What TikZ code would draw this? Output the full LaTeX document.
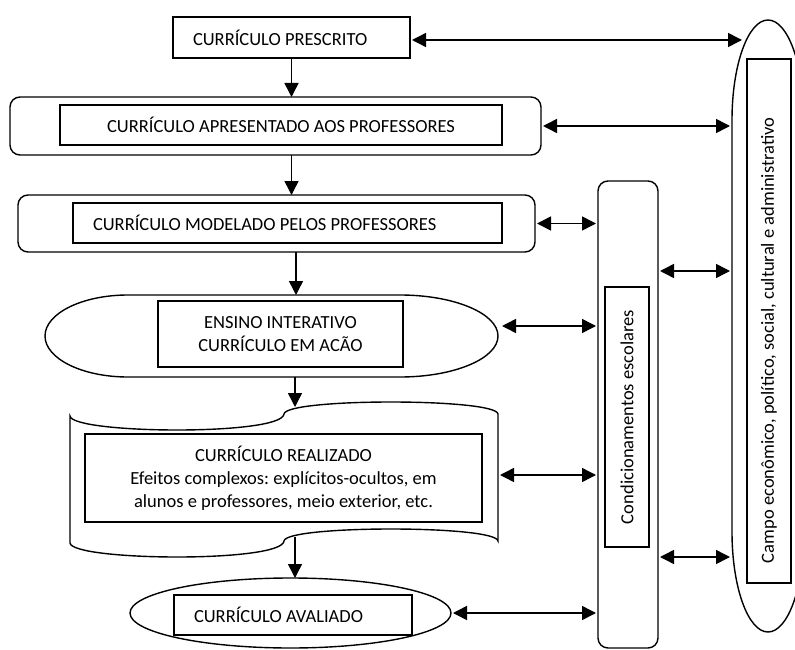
\documentclass[tikz,border=0pt]{standalone}
\usepackage{fontspec}
\setmainfont{Carlito}
\frenchspacing
\usetikzlibrary{shapes.geometric, arrows.meta}

\begin{document}
\begin{tikzpicture}[x=1pt, y=-1pt,
	txt/.style={font=\fontsize{18.5}{23}\selectfont},
	inbox/.style={draw, rectangle, line width=1.8pt, inner sep=0pt, outer sep=0pt, align=center, txt},
	shell/.style={draw, line width=1.4pt, inner sep=0pt, outer sep=0pt},
	flow/.style={line width=1.5pt, -{Triangle[length=14pt, width=14pt]}},
	both/.style={line width=1.5pt, shorten <=2pt, shorten >=2pt,
		{Triangle[length=14pt, width=14pt]}-{Triangle[length=14pt, width=14pt]}}
]
	\useasboundingbox (0,0) rectangle (795,650);

	% outer shapes
	\node[shell, rectangle, rounded corners=10pt, minimum width=531pt, minimum height=58pt] (apresOut) at (275.5,126) {};
	\node[shell, rectangle, rounded corners=10pt, minimum width=517pt, minimum height=57pt] (modelOut) at (276.5,223.5) {};
	\draw[shell] (128,295) -- (400,295) .. controls (454.1,295) and (498,313.4) .. (498,336)
		.. controls (498,358.6) and (454.1,377) .. (400,377) -- (128,377)
		.. controls (82.2,377) and (45,358.6) .. (45,336)
		.. controls (45,313.4) and (82.2,295) .. (128,295) -- cycle;
	\draw[shell] (70,416) .. controls (72,434) and (282,436) .. (284,414)
		.. controls (286,398) and (496,398) .. (498,414) -- (498,541)
		.. controls (496,525) and (286,525) .. (284,541)
		.. controls (282,563) and (72,561) .. (70,543) -- cycle;
	\node[shell, ellipse, minimum width=321pt, minimum height=70pt] (avalOut) at (290.5,613) {};
	\node[shell, rectangle, rounded corners=10pt, minimum width=60pt, minimum height=467pt] (escolar) at (628,414.5) {};
	\draw[shell] (732,120) -- (732,532) .. controls (732,587.2) and (748.1,632) .. (768,632)
		.. controls (787.9,632) and (804,587.2) .. (804,532) -- (804,120)
		.. controls (804,64.8) and (787.9,20) .. (768,20)
		.. controls (748.1,20) and (732,64.8) .. (732,120) -- cycle;

	% inner boxes
	\node[inbox, text width=197pt, align=flush left, inner xsep=20pt, minimum height=41pt] (prescrito) at (291.5,37.5)
		{CURRÍCULO PRESCRITO};
	\node[inbox, minimum width=442pt, minimum height=40pt] (apresentado) at (281,125)
		{CURRÍCULO APRESENTADO AOS PROFESSORES};
	\node[inbox, text width=389pt, align=flush left, inner xsep=20pt, minimum height=40pt] (modelado) at (287.5,223)
		{CURRÍCULO MODELADO PELOS PROFESSORES};
	\node[inbox, minimum width=245pt, minimum height=66pt] (ensino) at (280.5,334)
		{ENSINO INTERATIVO\\CURRÍCULO EM ACÃO};
	\node[inbox, minimum width=397pt, minimum height=88pt] (realizado) at (283.5,478)
		{CURRÍCULO REALIZADO\\Efeitos complexos: explícitos-ocultos, em\\alunos e professores, meio exterior, etc.};
	\node[inbox, text width=198pt, align=flush left, inner xsep=20pt, minimum height=40pt] (avaliado) at (293,615)
		{CURRÍCULO AVALIADO};
	\node[inbox, rotate=90, minimum width=260pt, minimum height=44pt] (condic) at (627,417)
		{Condicionamentos escolares};
	\node[inbox, rotate=90, text width=484pt, align=flush left, inner xsep=20pt, minimum height=44pt] (campo) at (769,321)
		{Campo econômico, político, social, cultural e administrativo};

	% anchor points on the drawn shapes
	\coordinate (ensinoTop) at (296,295);
	\coordinate (ensinoBot) at (295,377);
	\coordinate (ensinoR)   at (500,326);
	\coordinate (docTop)    at (295,407);
	\coordinate (docBot)    at (295,537);
	\coordinate (docR)      at (498,475);
	\coordinate (campoA)    at (744,40);
	\coordinate (campoL)    at (732,300);
	\coordinate (campoC)    at (732,271);
	\coordinate (campoD)    at (732,557);

	% downward flow
	\draw[flow] (prescrito.south) -- (prescrito.south |- apresOut.north);
	\draw[flow] (apresOut.south -| prescrito.south) -- (modelOut.north -| prescrito.south);
	\draw[flow] (modelOut.south -| ensinoTop) -- (ensinoTop);
	\draw[flow] (ensinoBot) -- (docTop);
	\draw[flow] (docBot) -- (docBot |- avalOut.north);

	% two-way links
	\draw[both] (prescrito.east |- campoA) -- (campoA);
	\draw[both] (apresOut.east) -- (apresOut.east -| campoL);
	\draw[both] (modelOut.east) -- (modelOut.east -| escolar.west);
	\draw[both] (campoC -| escolar.east) -- (campoC);
	\draw[both] (ensinoR) -- (ensinoR -| escolar.west);
	\draw[both] (docR) -- (docR -| escolar.west);
	\draw[both] (campoD -| escolar.east) -- (campoD);
	\draw[both] (avalOut.east) -- (avalOut.east -| escolar.west);
\end{tikzpicture}
\end{document}
